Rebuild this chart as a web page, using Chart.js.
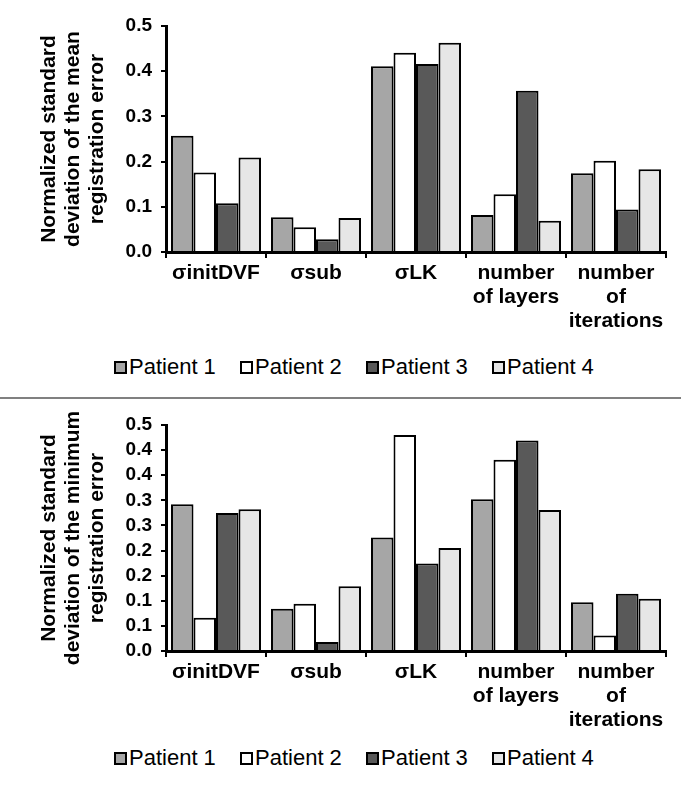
<!DOCTYPE html>
<html>
<head>
<meta charset="utf-8">
<script src="https://cdn.jsdelivr.net/npm/chart.js@4.4.1/dist/chart.umd.min.js"></script>
<style>
  body { margin: 0; background: #fff; font-family: "Liberation Sans", Arial, sans-serif; }
  .panel { position: relative; width: 681px; height: 397px; }
  .panel canvas { position: absolute; left: 0; top: 0; }
  .divider { width: 681px; height: 2px; background: #808080; }
  .legend { position: absolute; left: 114px; display: flex; font-size: 22px; line-height: 22px; color: #000; }
  .legend-item { display: flex; align-items: center; width: 126px; white-space: nowrap; }
  .legend-color { display: inline-block; width: 9px; height: 9px; border: 2px solid #000; margin-right: 2px; }
</style>
</head>
<body>
<div class="panel">
  <canvas id="meanChart" width="681" height="345"></canvas>
  <div class="legend" id="meanLegend" style="top:356px"></div>
</div>
<div class="divider"></div>
<div class="panel">
  <canvas id="minChart" width="681" height="345"></canvas>
  <div class="legend" id="minLegend" style="top:348px"></div>
</div>
<script>
const categories = ["σinitDVF", "σsub", "σLK", ["number", "of layers"], ["number", "of", "iterations"]];
const patients = ["Patient 1", "Patient 2", "Patient 3", "Patient 4"];
const patientColors = ["#a6a6a6", "#ffffff", "#595959", "#e6e6e6"];

// normalized std of the mean registration error
const meanP1 = [0.257, 0.077, 0.411, 0.082, 0.174];
const meanP2 = [0.176, 0.055, 0.441, 0.128, 0.202];
const meanP3 = [0.108, 0.028, 0.416, 0.357, 0.094];
const meanP4 = [0.209, 0.075, 0.463, 0.069, 0.183];
const meanTicks = ["0.0", "0.1", "0.2", "0.3", "0.4", "0.5"];

// normalized std of the minimum registration error
const minP1 = [0.292, 0.084, 0.226, 0.302, 0.097];
const minP2 = [0.066, 0.094, 0.430, 0.381, 0.031];
const minP3 = [0.275, 0.018, 0.174, 0.419, 0.114];
const minP4 = [0.282, 0.129, 0.205, 0.281, 0.104];
const minTicks = ["0.0", "0.1", "0.1", "0.2", "0.2", "0.3", "0.3", "0.4", "0.4", "0.5"];

const meanTitle = ["Normalized standard", "deviation of the mean", "registration error"];
const minTitle = ["Normalized standard", "deviation of the minimum", "registration error"];

function makeConfig(series, yMax, yStep, tickLabels, yTitle) {
  return {
    type: "bar",
    data: {
      labels: categories,
      datasets: series.map((values, i) => ({
        label: patients[i],
        data: values,
        backgroundColor: patientColors[i],
        borderColor: "#000",
        borderWidth: 2,
        categoryPercentage: 0.9,
        barPercentage: 1,
      })),
    },
    options: {
      responsive: false,
      animation: false,
      layout: { padding: { top: 26, right: 15, left: 0, bottom: 0 } },
      plugins: { legend: { display: false }, tooltip: { enabled: false } },
      scales: {
        x: {
          afterFit: (scale) => { scale.height = 93; },
          border: { color: "#000", width: 3 },
          grid: { drawOnChartArea: false, color: "#000", lineWidth: 2, tickLength: 6 },
          ticks: {
            color: "#000",
            padding: 3,
            maxRotation: 0,
            autoSkip: false,
            font: { family: "Liberation Sans", size: 21, weight: "bold", lineHeight: "24px" },
          },
        },
        y: {
          min: 0,
          max: yMax,
          afterFit: (scale) => { scale.width = 166; },
          border: { color: "#000", width: 3 },
          grid: { drawOnChartArea: false, color: "#000", lineWidth: 2, tickLength: 5 },
          ticks: {
            stepSize: yStep,
            autoSkip: false,
            color: "#000",
            padding: 9,
            font: { family: "Liberation Sans", size: 19, weight: "bold", lineHeight: "20px" },
            callback: (value, index) => tickLabels[index],
          },
          title: {
            display: true,
            text: yTitle,
            color: "#000",
            padding: { top: 37, bottom: 0 },
            font: { family: "Liberation Sans", size: 21, weight: "bold", lineHeight: "24px" },
          },
        },
      },
    },
  };
}

function generateLegend(legendId) {
  const legendContainer = document.getElementById(legendId);
  legendContainer.innerHTML = "";
  patients.forEach((label, index) => {
    const legendItem = document.createElement("div");
    legendItem.className = "legend-item";
    legendItem.innerHTML = `<span class="legend-color" style="background-color: ${patientColors[index]};"></span>${label}`;
    legendContainer.appendChild(legendItem);
  });
}

new Chart(document.getElementById("meanChart"),
  makeConfig([meanP1, meanP2, meanP3, meanP4], 0.5, 0.1, meanTicks, meanTitle));
generateLegend("meanLegend");

new Chart(document.getElementById("minChart"),
  makeConfig([minP1, minP2, minP3, minP4], 0.45, 0.05, minTicks, minTitle));
generateLegend("minLegend");
</script>
</body>
</html>
